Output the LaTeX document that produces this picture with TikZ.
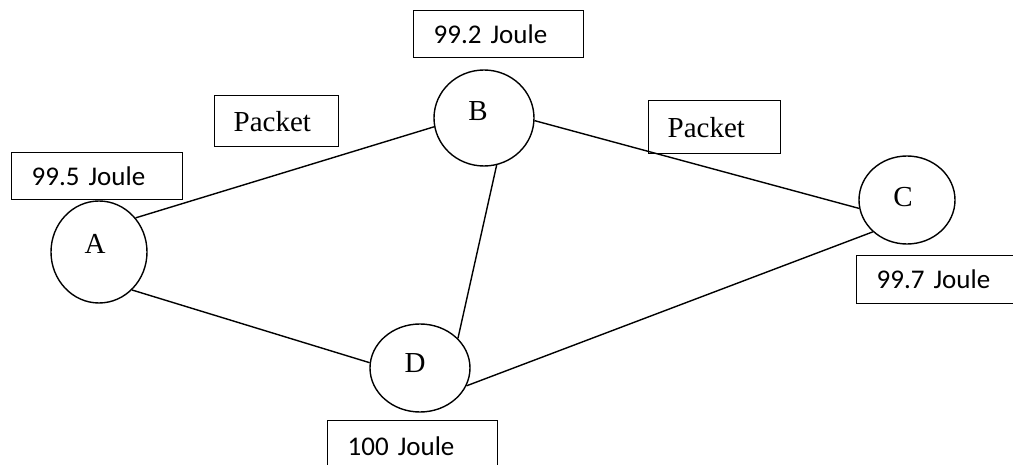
\documentclass[tikz,border=0pt]{standalone}
\usepackage{fontspec}
\setmainfont{Liberation Serif}
\newfontfamily\joulefont{Carlito}
\usetikzlibrary{shapes.geometric}
\tikzset{
  nodecirc/.style={draw, ellipse, inner sep=0pt, line width=1.4pt},
  letterlbl/.style={font=\fontsize{29}{34}\selectfont},
  joulebox/.style={draw, rectangle, anchor=north west, line width=1.4pt,
    inner xsep=20pt, inner ysep=0pt, text width=130pt, align=left,
    minimum height=47pt, font=\joulefont\fontsize{27}{32}\selectfont},
  packetbox/.style={draw, rectangle, anchor=north west, line width=1.4pt,
    inner xsep=19pt, inner ysep=0pt, align=left,
    font=\fontsize{29}{34}\selectfont},
  link/.style={line width=1.4pt}
}
\begin{document}
\begin{tikzpicture}[x=1pt,y=-1pt]
\path[use as bounding box] (0,0) rectangle (1013,465);
\clip (0,0) rectangle (1013,465);

% nodes
\node[nodecirc, minimum width=96pt, minimum height=102pt,
  label={[letterlbl, xshift=-4pt, yshift=8pt]center:A}] (A) at (99,252) {};
\node[nodecirc, minimum width=100pt, minimum height=96pt,
  label={[letterlbl, xshift=-6pt, yshift=7pt]center:B}] (B) at (484,118) {};
\node[nodecirc, minimum width=96pt, minimum height=88pt,
  label={[letterlbl, xshift=-4pt, yshift=3pt]center:C}] (C) at (907,200) {};
\node[nodecirc, minimum width=100pt, minimum height=88pt,
  label={[letterlbl, xshift=-5pt, yshift=5pt]center:D}] (D) at (420,368) {};

% energy boxes
\node[joulebox, text width=131pt] (jA) at (11,152) {99.5 Joule};
\node[joulebox] (jB) at (413,10) {99.2 Joule};
\node[joulebox, text width=160pt, minimum height=48pt] (jC) at (856,255) {99.7 Joule};
\node[joulebox, minimum height=52pt] (jD) at (327,420) {100 Joule};

% packet boxes
\node[packetbox, text width=86pt, minimum height=51pt] (p1) at (214,95) {Packet};
\node[packetbox, text width=94pt, minimum height=53pt] (p2) at (648,100) {Packet};

% links
\draw[link] (A.43) -- (B.190);
\draw[link] (A.311) -- (D.174);
\draw[link] (B.285) -- (D.38);
\draw[link] (B.357) -- (C.190);
\draw[link] (D.339) -- (C.223);
\end{tikzpicture}
\end{document}
